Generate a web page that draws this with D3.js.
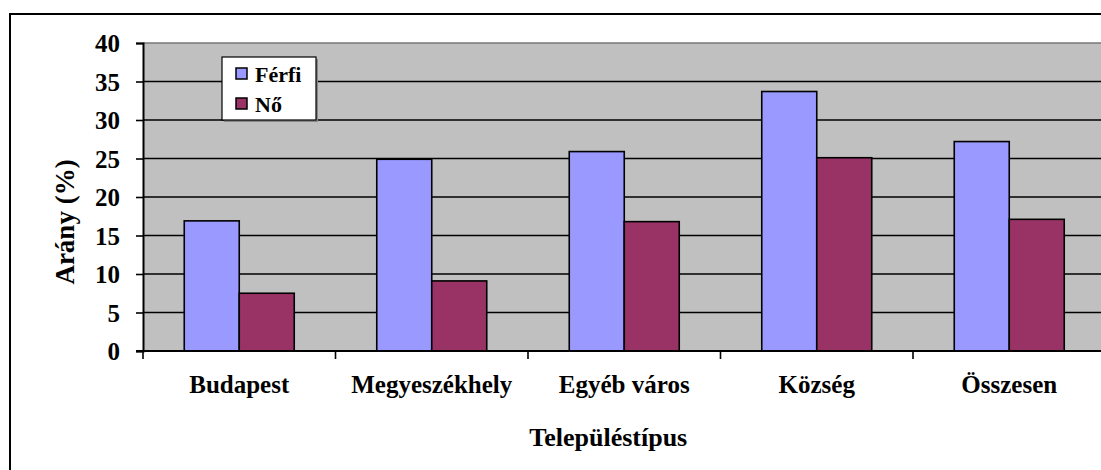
<!DOCTYPE html>
<html>
<head>
<meta charset="utf-8">
<script src="https://cdn.jsdelivr.net/npm/d3@7"></script>
<style>
  body { margin: 0; background: #fff; }
  svg text { font-family: "Liberation Serif", "Times New Roman", serif; font-weight: bold; }
</style>
</head>
<body>
<div id="chart"></div>
<script>
// adatok
var categories = ["Budapest", "Megyeszékhely", "Egyéb város", "Község", "Összesen"];
var series = ["Férfi", "Nő"];
var ferfi = [16.9, 24.9, 25.9, 33.7, 27.2];
var no = [7.5, 9.1, 16.8, 25.1, 17.1];
var yTicks = [0, 5, 10, 15, 20, 25, 30, 35, 40];
var colors = ["#9999FF", "#993366"];

var W = 1101, H = 470;
var plot = { left: 143, top: 43, bottom: 351, step: 192.5 };

var svg = d3.select("#chart").append("svg").attr("width", W).attr("height", H);

// keret
svg.append("rect").attr("x", 10).attr("y", 14).attr("width", W + 20).attr("height", H + 20)
    .attr("fill", "#fff").attr("stroke", "#000").attr("stroke-width", 2);

var x0 = d3.scaleBand().domain(categories)
    .range([plot.left, plot.left + plot.step * categories.length]).paddingInner(0).paddingOuter(0);
var x1 = d3.scaleBand().domain(series).range([0, x0.bandwidth()]).paddingInner(0).paddingOuter(0.75);
var y = d3.scaleLinear().domain([0, 40]).range([plot.bottom, plot.top]);

// szürke háttér
svg.append("rect").attr("x", plot.left).attr("y", plot.top)
    .attr("width", x0.range()[1] - plot.left).attr("height", plot.bottom - plot.top)
    .attr("fill", "#C0C0C0");

// rácsvonalak
svg.append("g").selectAll("line").data(yTicks.filter(function(d){ return d > 0; }))
    .enter().append("line")
    .attr("x1", plot.left).attr("x2", x0.range()[1])
    .attr("y1", function(d){ return y(d); }).attr("y2", function(d){ return y(d); })
    .attr("stroke", function(d){ return d == 40 ? "#777" : "#000"; })
    .attr("stroke-width", 1.6);

// oszlopok
var rows = categories.map(function(c, i){ return { cat: c, vals: [ferfi[i], no[i]] }; });
var groups = svg.append("g").selectAll("g").data(rows).enter().append("g")
    .attr("transform", function(d){ return "translate(" + x0(d.cat) + ",0)"; });
groups.selectAll("rect").data(function(d){ return d.vals.map(function(v, j){ return { s: series[j], v: v, j: j }; }); })
    .enter().append("rect")
    .attr("x", function(d){ return x1(d.s); })
    .attr("y", function(d){ return y(d.v); })
    .attr("width", x1.bandwidth())
    .attr("height", function(d){ return y(0) - y(d.v); })
    .attr("fill", function(d){ return colors[d.j]; })
    .attr("stroke", "#000").attr("stroke-width", 1.6);

// y tengely
var yAxis = d3.axisLeft(y).tickValues(yTicks).tickSize(7).tickPadding(16);
var gy = svg.append("g").attr("transform", "translate(" + plot.left + ",0)").call(yAxis);
gy.select(".domain").attr("stroke", "#000").attr("stroke-width", 2);
gy.selectAll(".tick line").attr("stroke", "#000").attr("stroke-width", 1.6);
gy.selectAll("text").style("font-size", "25px").attr("fill", "#000").attr("dy", "0.34em");

// x tengely
var gx = svg.append("g").attr("transform", "translate(0," + plot.bottom + ")");
gx.append("line").attr("x1", plot.left - 7).attr("x2", x0.range()[1])
    .attr("stroke", "#000").attr("stroke-width", 2);
gx.selectAll(".xt").data(categories).enter().append("line").attr("class", "xt")
    .attr("x1", function(d){ return x0(d); }).attr("x2", function(d){ return x0(d); })
    .attr("y1", 0).attr("y2", 8).attr("stroke", "#000").attr("stroke-width", 1.6);
gx.selectAll("text").data(categories).enter().append("text")
    .attr("x", function(d){ return x0(d) + x0.bandwidth() / 2; })
    .attr("y", 42).attr("text-anchor", "middle").style("font-size", "25px").text(function(d){ return d; });

// tengelycímek
svg.append("text").attr("x", plot.left + (x0.range()[1] - plot.left) / 2 - 16).attr("y", 446)
    .attr("text-anchor", "middle").style("font-size", "26px").text("Településtípus");
svg.append("text").attr("transform", "translate(74,222) rotate(-90)")
    .attr("text-anchor", "middle").style("font-size", "27px").text("Arány (%)");

// jelmagyarázat
var lg = svg.append("g").attr("transform", "translate(222,57)");
lg.append("rect").attr("x", 2).attr("y", 2).attr("width", 94).attr("height", 63).attr("fill", "#888");
lg.append("rect").attr("width", 94).attr("height", 63).attr("fill", "#fff").attr("stroke", "#000").attr("stroke-width", 1.2);
series.forEach(function(s, i){
    var yy = 17 + i * 30;
    lg.append("rect").attr("x", 14).attr("y", yy - 6).attr("width", 11).attr("height", 11)
        .attr("fill", colors[i]).attr("stroke", "#000").attr("stroke-width", 1.5);
    lg.append("text").attr("x", 33).attr("y", yy + 8).style("font-size", "22px").text(s);
});
</script>
</body>
</html>
